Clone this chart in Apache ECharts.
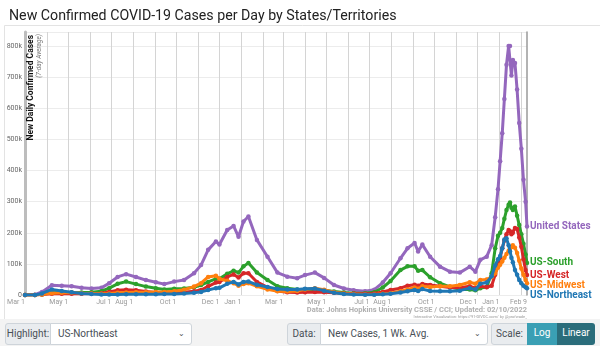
<!DOCTYPE html>
<html>
<head>
<meta charset="utf-8">
<script src="https://cdn.jsdelivr.net/npm/echarts@6/dist/echarts.min.js"></script>
<style>
html,body{margin:0;padding:0;background:#fff;font-family:Roboto,"Noto Sans",sans-serif;}
#wrap{position:relative;width:600px;height:346px;overflow:hidden;}
#chart{position:absolute;left:0;top:0;width:600px;height:320px;}
#ctrl{position:absolute;left:0;top:319px;width:600px;height:27px;background:#f3f3f3;}
.box{position:absolute;top:4px;height:22px;box-sizing:border-box;border:1px solid #ced4da;font-size:10px;line-height:20px;color:#495057;white-space:nowrap;}
.lab{background:#e9ecef;text-align:center;}
.sel{background:#fff;padding-left:7px;}
.chev{position:absolute;right:6px;top:0;font-size:8px;color:#555;}
.btn{border:none;color:#fff;text-align:center;font-size:10px;}
</style>
</head>
<body>
<div id="wrap">
<div id="chart"></div>
<div id="ctrl">
  <div class="box lab" style="left:5px;width:46px;border-radius:3px 0 0 3px;">Highlight:</div>
  <div class="box sel" style="left:50px;width:142px;border-radius:0 3px 3px 0;">US-Northeast<span class="chev">&#8964;</span></div>
  <div class="box lab" style="left:287px;width:34px;border-radius:3px 0 0 3px;">Data:</div>
  <div class="box sel" style="left:320px;width:168px;border-radius:0 3px 3px 0;">New Cases, 1 Wk. Avg.<span class="chev">&#8964;</span></div>
  <div class="box lab" style="left:491px;width:37px;border-radius:3px 0 0 3px;">Scale:</div>
  <div class="box btn" style="left:527px;width:30px;background:#3a9fb4;">Log</div>
  <div class="box btn" style="left:557px;width:38px;background:#2b6d7b;border-radius:0 3px 3px 0;">Linear</div>
</div>
</div>
<script>
// ---- data (values in thousands of cases, 7-day average) ----
const dates = ['2020-03-01','2020-03-15','2020-03-25','2020-04-08','2020-04-22','2020-05-06','2020-05-20','2020-06-03','2020-06-17','2020-06-28','2020-07-10','2020-07-22','2020-08-05','2020-08-19','2020-09-02','2020-09-14','2020-09-28','2020-10-12','2020-10-26','2020-11-05','2020-11-15','2020-11-26','2020-12-01','2020-12-12','2020-12-21','2020-12-28',
'2021-01-04','2021-01-11','2021-01-23','2021-02-07','2021-02-21','2021-03-07','2021-03-21','2021-04-01','2021-04-15','2021-04-28','2021-05-12','2021-05-26','2021-06-09','2021-06-25','2021-07-08','2021-07-20','2021-07-31','2021-08-14','2021-08-24','2021-09-03','2021-09-08','2021-09-14','2021-09-25','2021-10-09','2021-10-23','2021-11-06','2021-11-20','2021-11-28','2021-12-05','2021-12-14','2021-12-21','2021-12-26','2021-12-30',
'2022-01-02','2022-01-05','2022-01-08','2022-01-11','2022-01-14','2022-01-16','2022-01-18','2022-01-20','2022-01-23','2022-01-26','2022-01-29','2022-02-01','2022-02-04','2022-02-07','2022-02-09'];

const unitedStates = [0,1,10,31,30,28,23,21,23,38,58,67,58,48,41,35,43,48,70,96,145,172,162,209,222,187,
236,252,177,123,72,59,54,64,72,55,32,21,15,12,17,40,70,118,150,167,140,162,123,91,75,72,91,75,113,123,160,250,340,
430,520,630,740,800,800,705,755,745,660,553,470,370,300,220];

const usSouth = [0,0.3,2,7,8,8,8,9,12,22,36,43,35,27,22,18,20,21,25,32,42,52,52,68,78,72,
92,103,72,48,28,22,18,18,18,15,11,8,6,5.5,9,24,45,80,92,92,78,80,57,38,26,18,18,15,22,26,70,150,190,
200,215,245,273,290,297,280,273,284,255,225,195,165,130,103];

const usWest = [0,0.3,1.5,4,4,4,4,5,6,10,15,17,15,11,8,6,8,9,12,16,28,40,42,58,66,56,
70,70,42,25,13,9,8,9,10,9,7,5,4.5,4,5,10,16,22,30,33,30,35,32,28,24,23,28,22,28,25,30,65,100,
120,150,175,195,209,205,195,200,215,212,185,155,115,80,64];

const usMidwest = [0,0.2,1.5,6,7,8,6,5,4,5,7,8,9,9,10,10,12,17,27,38,58,62,52,46,38,30,
35,38,28,18,12,11,13,18,22,17,9,5,3,2,2,4,6,12,18,24,20,28,26,28,28,32,41,36,48,50,57,70,88,
97,108,120,132,142,148,155,160,152,135,110,85,65,48,38];

const usNortheast = [0,0.3,5,18,13,9,5,3,2,2,2,2.5,2.5,2.5,2.5,3,3.5,5,7,10,16,22,23,36,42,34,
42,43,33,26,19,18,18,20,21,14,7,3.5,2,1,1.2,2.5,4,8,12,16,13,19,13,12,12,14,22,18,36,40,60,95,115,
125,150,178,182,160,140,120,105,80,65,48,38,30,25,22];

const xTickDates = ['2020-03-01','2020-05-01','2020-07-01','2020-08-01','2020-10-01','2020-12-01','2021-01-01','2021-03-01','2021-05-01','2021-07-01','2021-08-01','2021-10-01','2021-12-01','2022-01-01','2022-02-09'];
const xTickLabels = ['Mar 1','May 1','Jul 1','Aug 1','Oct 1','Dec 1','Jan 1','Mar 1','May 1','Jul 1','Aug 1','Oct 1','Dec 1','Jan 1','Feb 9'];

// ---- helpers ----
function ts(s){const p=s.split('-').map(Number);return Date.UTC(p[0],p[1]-1,p[2]);}
const xMin = ts('2020-03-01'), xMax = ts('2022-02-09');
const monthTicks = [];
for (let y=2020,m=2; ; ) { const t=Date.UTC(y,m,1); if (t>xMax) break; monthTicks.push(t); m++; if(m>11){m=0;y++;} }
const labelMap = {};
xTickDates.forEach((d,i)=>{labelMap[ts(d)] = xTickLabels[i];});

const seriesDefs = [
  {name:'United States', data:unitedStates, color:'#9467bd'},
  {name:'US-South', data:usSouth, color:'#2ca02c'},
  {name:'US-West', data:usWest, color:'#d62728'},
  {name:'US-Midwest', data:usMidwest, color:'#ff7f0e'},
  {name:'US-Northeast', data:usNortheast, color:'#1f77b4'}
];

const chart = echarts.init(document.getElementById('chart'), null, {renderer:'canvas'});
const option = {
  animation:false,
  textStyle:{fontFamily:'Roboto'},
  title:{text:'New Confirmed COVID-19 Cases per Day by States/Territories', left:4, top:4,
    textStyle:{fontSize:14.2, fontWeight:'normal', color:'#222', fontFamily:'Roboto'}},
  grid:{left:25, right:73, top:32, bottom:25},
  xAxis:{type:'value', min:xMin, max:xMax,
    axisLine:{show:false},
    axisTick:{show:false, customValues:monthTicks},
    splitLine:{show:true, lineStyle:{color:'#d4d4d4', width:1}},
    axisLabel:{customValues:xTickDates.map(ts), formatter:v=>labelMap[v]||'', align:'right',
      fontSize:7, color:'#9a9a9a', margin:4, hideOverlap:false, showMinLabel:true, showMaxLabel:true}
  },
  yAxis:[{type:'value', min:0, max:845, interval:100, position:'left',
    axisLine:{show:true, lineStyle:{color:'#bdbdbd', width:3}},
    axisTick:{show:false},
    splitLine:{show:true, lineStyle:{color:'#ececec', width:1}},
    axisLabel:{fontSize:7, color:'#666', margin:3,
      formatter:v=> (v%100===0 ? (v===0?'0':v+'k') : '')}
  },{type:'value', min:0, max:845, position:'right',
    axisLine:{show:true, lineStyle:{color:'#9a9a9a', width:1.5}},
    axisTick:{show:false}, axisLabel:{show:false}, splitLine:{show:false}}],
  graphic:[
    {type:'rect', left:2, top:23, shape:{width:596, height:296}, style:{fill:'none', stroke:'#e3e3e3', lineWidth:1}, z:-10},
    {type:'text', x:30.5, y:35, rotation:Math.PI/2, style:{text:'New Daily Confirmed Cases', align:'right', verticalAlign:'middle', fontSize:8.5, fontWeight:'bold', fill:'#111', fontFamily:'Roboto'}, z:50},
    {type:'text', x:39, y:34, rotation:Math.PI/2, style:{text:'(7-day Average)', align:'right', verticalAlign:'middle', fontSize:6.5, fontStyle:'italic', fill:'#777', fontFamily:'Roboto'}, z:50},
    {type:'text', right:73, top:306, style:{text:'Data: Johns Hopkins University CSSE / CCI; Updated: 02/10/2022', fontSize:7.5, fontWeight:'bold', fill:'#b0b0b0', fontFamily:'Roboto'}},
    {type:'text', right:73, top:315, style:{text:'Interactive Visualization: https://91-DIVOC.com/ by @profwade_', fontSize:4, fill:'#999', fontFamily:'Roboto'}}
  ],
  series: seriesDefs.map((s,i)=>({
    type:'line', name:s.name,
    data: dates.map((d,j)=>[ts(d), s.data[j]]),
    showSymbol:true, showAllSymbol:true, symbol:'circle', symbolSize:4.5,
    lineStyle:{width:3, color:s.color}, itemStyle:{color:s.color},
    emphasis:{disabled:true}, silent:true, z:2+i,
    endLabel:{show:true, formatter:'{a}', color:s.color, fontSize:10, fontWeight:'bold', fontFamily:'Roboto', distance:3},
    labelLayout:{moveOverlap:'shiftY'}
  }))
};
chart.setOption(option);
</script>
</body>
</html>
